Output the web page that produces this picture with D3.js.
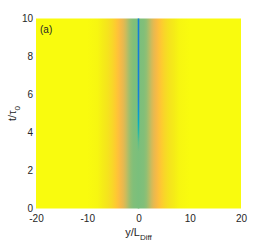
<!DOCTYPE html>
<html>
<head>
<meta charset="utf-8">
<script src="https://cdn.jsdelivr.net/npm/d3@7"></script>
<style>
  body { margin: 0; background: #fff; }
  svg { display: block; font-family: "Liberation Sans", Arial, sans-serif; }
</style>
</head>
<body>
<svg id="chart" width="266" height="245"></svg>
<script>
// background profile across y (colormap level, 0..1), same for every t
var yPos = [-20, -10, -8, -7, -6, -5, -4.5, -4, -3.5, -3, -2.5, -2, -1.5, -1, 0, 1, 1.5, 2, 2.5, 3, 3.5, 4, 4.5, 5, 6, 7, 8, 10, 20];
var yLevel = [1, 1, 0.99, 0.97, 0.95, 0.91, 0.88, 0.85, 0.82, 0.79, 0.74, 0.68, 0.63, 0.61, 0.6, 0.61, 0.63, 0.68, 0.74, 0.79, 0.82, 0.85, 0.88, 0.91, 0.95, 0.97, 0.99, 1, 1];

// level along the centre line y = 0 as a function of t
var tPos = [0, 3, 3.5, 4, 4.5, 5, 5.5, 6, 8, 10];
var tLevel = [0.6, 0.6, 0.56, 0.48, 0.4, 0.32, 0.26, 0.23, 0.22, 0.22];

var xTicks = [-20, -10, 0, 10, 20];
var yTicks = [0, 2, 4, 6, 8, 10];

// parula colormap
var parula = [
  [0.2081,0.1663,0.5292],[0.2116,0.1898,0.5777],[0.2123,0.2138,0.6270],[0.2081,0.2386,0.6771],
  [0.1959,0.2645,0.7279],[0.1707,0.2919,0.7792],[0.1253,0.3242,0.8303],[0.0591,0.3598,0.8683],
  [0.0117,0.3875,0.8820],[0.0060,0.4086,0.8828],[0.0165,0.4266,0.8786],[0.0329,0.4430,0.8720],
  [0.0498,0.4586,0.8641],[0.0629,0.4737,0.8554],[0.0723,0.4887,0.8467],[0.0779,0.5040,0.8384],
  [0.0793,0.5200,0.8312],[0.0749,0.5375,0.8263],[0.0641,0.5570,0.8240],[0.0488,0.5772,0.8228],
  [0.0343,0.5966,0.8199],[0.0265,0.6137,0.8135],[0.0239,0.6287,0.8038],[0.0231,0.6418,0.7913],
  [0.0228,0.6535,0.7768],[0.0267,0.6642,0.7607],[0.0384,0.6743,0.7436],[0.0590,0.6838,0.7254],
  [0.0843,0.6928,0.7062],[0.1133,0.7015,0.6859],[0.1453,0.7098,0.6646],[0.1801,0.7177,0.6424],
  [0.2178,0.7250,0.6193],[0.2586,0.7317,0.5954],[0.3022,0.7376,0.5712],[0.3482,0.7424,0.5473],
  [0.3953,0.7459,0.5244],[0.4420,0.7481,0.5033],[0.4871,0.7491,0.4840],[0.5300,0.7491,0.4661],
  [0.5709,0.7485,0.4494],[0.6099,0.7473,0.4337],[0.6473,0.7456,0.4188],[0.6834,0.7435,0.4044],
  [0.7184,0.7411,0.3905],[0.7525,0.7384,0.3768],[0.7858,0.7356,0.3633],[0.8185,0.7327,0.3498],
  [0.8507,0.7299,0.3360],[0.8824,0.7274,0.3217],[0.9139,0.7258,0.3063],[0.9450,0.7261,0.2886],
  [0.9739,0.7314,0.2666],[0.9938,0.7455,0.2403],[0.9990,0.7653,0.2164],[0.9955,0.7861,0.1967],
  [0.9880,0.8066,0.1794],[0.9789,0.8271,0.1633],[0.9697,0.8481,0.1475],[0.9626,0.8705,0.1309],
  [0.9589,0.8949,0.1132],[0.9598,0.9218,0.0948],[0.9661,0.9514,0.0755],[0.9763,0.9831,0.0538]
];
var color = d3.scaleLinear()
  .domain(parula.map(function(d, i) { return i / (parula.length - 1); }))
  .range(parula.map(function(c) {
    return d3.rgb(c[0] * 255, c[1] * 255, c[2] * 255).formatHex();
  }))
  .clamp(true);

var svg = d3.select("#chart");
var x = d3.scaleLinear().domain([-20, 20]).range([36, 241]);
var y = d3.scaleLinear().domain([0, 10]).range([208.5, 18.5]);
var textColor = "#262626";

var defs = svg.append("defs");

// horizontal gradient for the background
var bg = defs.append("linearGradient")
  .attr("id", "bgGrad")
  .attr("gradientUnits", "userSpaceOnUse")
  .attr("x1", x(-20)).attr("x2", x(20))
  .attr("y1", 0).attr("y2", 0);
bg.selectAll("stop")
  .data(yPos)
  .enter()
  .append("stop")
  .attr("offset", function(d) { return (x(d) - x(-20)) / (x(20) - x(-20)); })
  .attr("stop-color", function(d, i) { return color(yLevel[i]); });

// vertical gradient for the centre line
var cl = defs.append("linearGradient")
  .attr("id", "lineGrad")
  .attr("gradientUnits", "userSpaceOnUse")
  .attr("x1", 0).attr("x2", 0)
  .attr("y1", y(0)).attr("y2", y(10));
cl.selectAll("stop")
  .data(tPos)
  .enter()
  .append("stop")
  .attr("offset", function(d) { return d / 10; })
  .attr("stop-color", function(d, i) { return color(tLevel[i]); });

svg.append("rect")
  .attr("x", x(-20))
  .attr("y", y(10))
  .attr("width", x(20) - x(-20))
  .attr("height", y(0) - y(10))
  .attr("fill", "url(#bgGrad)");

svg.append("rect")
  .attr("x", x(0) - 0.8)
  .attr("y", y(10))
  .attr("width", 1.6)
  .attr("height", y(0) - y(10))
  .attr("fill", "url(#lineGrad)");

// axes, ticks hidden under the image like matlab
var fmt = function(d) { return String(d); };
var xAxis = svg.append("g")
  .attr("transform", "translate(0," + (y(0) + 3) + ")")
  .call(d3.axisBottom(x).tickValues(xTicks).tickFormat(fmt).tickSize(0).tickPadding(3));
var yAxis = svg.append("g")
  .attr("transform", "translate(" + (x(-20) - 3) + ",0)")
  .call(d3.axisLeft(y).tickValues(yTicks).tickFormat(fmt).tickSize(0).tickPadding(0));
[xAxis, yAxis].forEach(function(g) {
  g.select(".domain").remove();
  g.selectAll("text")
    .attr("fill", textColor)
    .style("font-size", "10px")
    .style("font-family", "Liberation Sans, Arial, sans-serif");
});

// axis labels
var xl = svg.append("text")
  .attr("x", x(0))
  .attr("y", 236)
  .attr("text-anchor", "middle")
  .attr("fill", textColor)
  .style("font-size", "11px");
xl.append("tspan").text("y/L");
xl.append("tspan").attr("dy", 4).style("font-size", "8px").text("Diff");

var yl = svg.append("text")
  .attr("transform", "translate(16," + y(5) + ") rotate(-90)")
  .attr("text-anchor", "middle")
  .attr("fill", textColor)
  .style("font-size", "11px");
yl.append("tspan").text("t/\u03c4");
yl.append("tspan").attr("dy", 4).style("font-size", "8px").text("0");

svg.append("text")
  .attr("x", 40)
  .attr("y", 33)
  .attr("fill", textColor)
  .style("font-size", "10px")
  .text("(a)");
</script>
</body>
</html>
